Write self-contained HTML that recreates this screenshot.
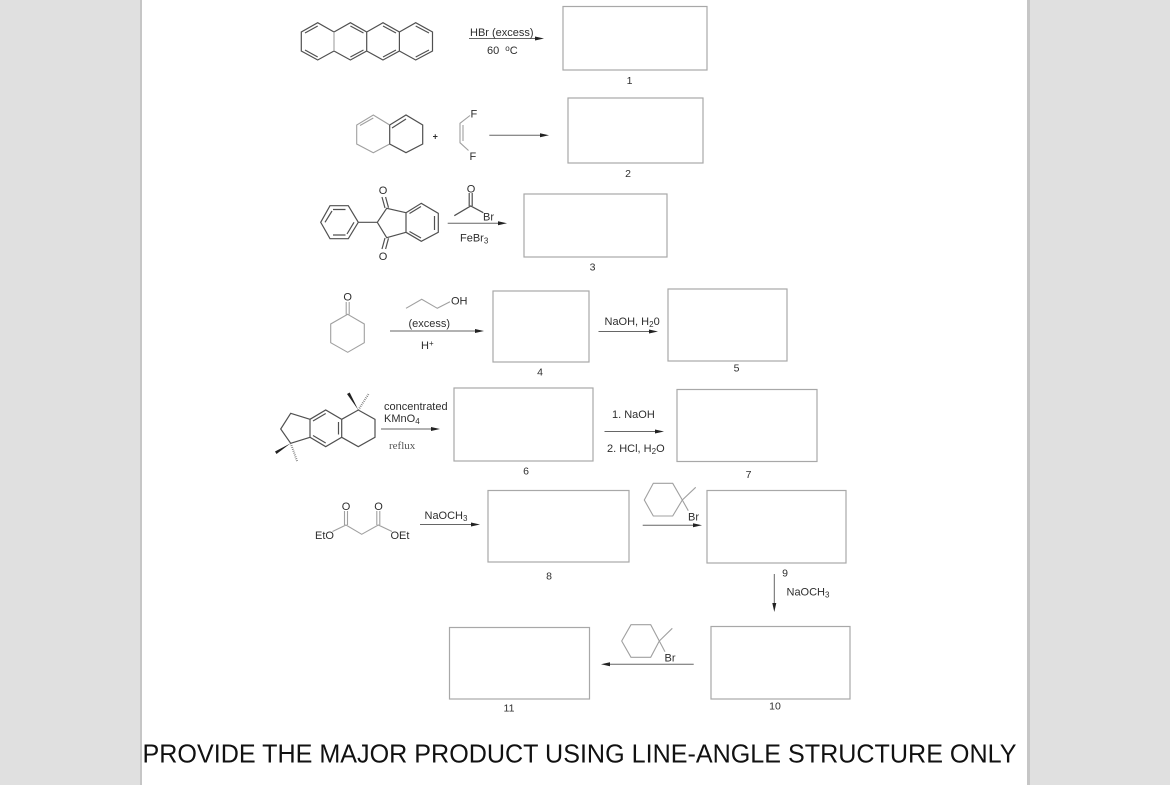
<!DOCTYPE html>
<html><head><meta charset="utf-8"><style>
html,body{margin:0;padding:0;background:#e0e0e0;width:1170px;height:785px;overflow:hidden}
svg{display:block}
text{font-family:"Liberation Sans",sans-serif;font-size:11px;fill:#2e2e2e}
.b{fill:#fff;stroke:#a8a8a8;stroke-width:1.2}
.m{fill:none;stroke:#505050;stroke-width:1.2}
.l{fill:none;stroke:#a0a0a0;stroke-width:1.1}
.a{fill:none;stroke:#666;stroke-width:1}
.h{fill:#222;stroke:none}
text.n{font-size:10.500px}
tspan.s{font-size:8px}
</style></head><body>
<svg width="1170" height="785" viewBox="0 0 1170 785" xmlns="http://www.w3.org/2000/svg">
<rect x="0" y="0" width="1170" height="785" fill="#e0e0e0"/>
<rect x="140" y="0" width="890" height="785" fill="#c6c6c6"/>
<rect x="142" y="0" width="885" height="785" fill="#fff"/>

<!-- boxes -->
<rect class="b" x="563" y="6.500" width="144" height="63.500"/>
<rect class="b" x="568" y="98" width="135" height="65"/>
<rect class="b" x="524" y="194" width="143" height="63"/>
<rect class="b" x="493" y="291" width="96" height="71"/>
<rect class="b" x="668" y="289" width="119" height="72"/>
<rect class="b" x="454" y="388" width="139" height="73"/>
<rect class="b" x="677" y="389.500" width="140" height="72"/>
<rect class="b" x="488" y="490.500" width="141" height="71.500"/>
<rect class="b" x="707" y="490.500" width="139" height="72.500"/>
<rect class="b" x="711" y="626.500" width="139" height="72.500"/>
<rect class="b" x="449.500" y="627.500" width="140" height="71.500"/>

<!-- box numbers -->
<text class="n" x="629.500" y="84" text-anchor="middle">1</text>
<text class="n" x="628" y="177" text-anchor="middle">2</text>
<text class="n" x="592.500" y="270.500" text-anchor="middle">3</text>
<text class="n" x="540" y="375.500" text-anchor="middle">4</text>
<text class="n" x="736.500" y="371.500" text-anchor="middle">5</text>
<text class="n" x="526" y="474.500" text-anchor="middle">6</text>
<text class="n" x="748.500" y="478" text-anchor="middle">7</text>
<text class="n" x="549" y="579.500" text-anchor="middle">8</text>
<text class="n" x="785" y="576.500" text-anchor="middle">9</text>
<text class="n" x="775" y="709.500" text-anchor="middle">10</text>
<text class="n" x="509" y="711.500" text-anchor="middle">11</text>

<!-- tetracene -->
<path class="m" d="M334 32L317.700 22.700L301.300 32V51L317.700 60L334 51M334 32L350.400 22.700L366.700 32V51L350.400 60L334 51M366.700 32L383 22.700L399.400 32V51L383 60L366.700 51M399.400 32L415.700 22.700L432.500 32V51L415.700 60L399.400 51"/>
<path class="l" d="M334 32V51"/>
<path class="m" d="M305 33L317.700 26M305 50L317.700 57M350.400 26L363.500 33M350.400 57L363.500 50M383 26L396 33M383 57L396 50M415.700 26L429 33M415.700 57L429 50"/>
<path class="a" d="M469 38.500H536"/><path class="h" d="M544 38.500L535 36.500V40.500Z"/>
<text x="470" y="36">HBr (excess)</text>
<text x="487" y="54">60 <tspan dx="3" dy="-3" class="s">o</tspan><tspan dy="3">C</tspan></text>

<!-- reaction 2 -->
<path class="l" d="M389.700 125L373.300 115L356.700 125V144L373.300 152.700L389.700 144"/>
<path class="l" d="M360 125.500L373.300 118"/>
<path class="m" d="M389.700 125V144L406 152.700L422.700 144V125L406 115L389.700 125M392 128L406 119"/>
<text x="435.300" y="139.500" text-anchor="middle" font-weight="bold" style="font-size:9px">+</text>
<path class="l" d="M470 115.500L460 123.300V142.700L468.500 150.500M463 125V141"/>
<text x="470.500" y="117.500">F</text>
<text x="469.500" y="160">F</text>
<path class="a" d="M489.300 135.300H541"/><path class="h" d="M549 135.300L540 133.300V137.300Z"/>

<!-- reaction 3 -->
<path class="m" d="M320.700 222.300L330 205.700H348.300L358.300 222.300L348.300 238.700H330ZM333 209.500H345.500M333 235H345.500M325 222.300L332 211M354 222.300L347 234M358.300 222.300H377.300L386.700 208.300L406 212.700V232.300L386.700 237.700L377.300 222.300M406 212.700L421.300 203.300L438.300 213.300V232.300L421.300 241.300L406 232.300M409.500 213.500L421 206.500M434.500 216V230M409.500 231.500L421 238"/>
<path class="m" d="M385 208L382 197M388.500 207.700L385.600 197M385 238L382 249M388.500 238.300L385.600 249"/>
<text x="383" y="194" text-anchor="middle">O</text>
<text x="383" y="260" text-anchor="middle">O</text>
<path class="m" d="M454.300 215.700L470.700 206L483.300 212.700M469.200 206V193M472.200 206V193"/>
<text x="471" y="192.500" text-anchor="middle">O</text>
<text x="483" y="220.500">Br</text>
<path class="a" d="M447.700 223.300H499"/><path class="h" d="M507 223.300L498 221.300V225.300Z"/>
<text x="460" y="241.500">FeBr<tspan class="s" dy="2">3</tspan></text>

<!-- reaction 4 -->
<path class="l" d="M347.700 314.300L364.300 324V342.700L347.700 352.300L330.700 342.700V324ZM346.200 314.500V302M349.200 314.500V302"/>
<text x="347.700" y="300.500" text-anchor="middle">O</text>
<path class="l" d="M406 308.300L421.700 299.300L437.300 308.300L450 301.700"/>
<text x="451" y="304.500">OH</text>
<text x="408.500" y="327">(excess)</text>
<path class="a" d="M390 331H476"/><path class="h" d="M484 331L475 329V333Z"/>
<text x="421" y="349">H<tspan class="s" dy="-3">+</tspan></text>
<text x="604.500" y="325">NaOH, H<tspan class="s" dy="2">2</tspan><tspan dy="-2">0</tspan></text>
<path class="a" d="M598.500 331.500H650"/><path class="h" d="M658 331.500L649 329.500V333.500Z"/>

<!-- reaction 5 -->
<path class="m" d="M310 419.300L325.700 410L341.700 419.300V437.300L325.700 446.700L310 437.300ZM313 421L325.700 413.500M338.500 422V434.500M313 435.500L325.700 443M341.700 419.300L358.300 410L375 419.300V437.300L358.300 446.700L341.700 437.300M310 419.300L290.700 413.300L280.700 429L290.700 443.300L310 437.300"/>
<path class="h" d="M358.300 410L347 394L349.700 392.500Z"/>
<path class="h" d="M290.700 443.300L275 451.500L276.500 454Z"/>
<path d="M358.300 410L369 393.300" fill="none" stroke="#777" stroke-width="2" stroke-dasharray="0.800 1.200"/>
<path d="M290.700 443.300L297.300 461.700" fill="none" stroke="#777" stroke-width="2" stroke-dasharray="0.800 1.200"/>
<text x="384" y="410">concentrated</text>
<text x="384" y="422">KMnO<tspan class="s" dy="2">4</tspan></text>
<path class="a" d="M381 429H432"/><path class="h" d="M440 429L431 427V431Z"/>
<text x="389" y="449" style="font-family:'Liberation Serif',serif;font-size:11px;fill:#555">reflux</text>
<text x="612" y="418">1. NaOH</text>
<text x="607" y="452">2. HCl, H<tspan class="s" dy="2">2</tspan><tspan dy="-2">O</tspan></text>
<path class="a" d="M604.500 431.500H656"/><path class="h" d="M664 431.500L655 429.500V433.500Z"/>

<!-- reaction 6 -->
<path class="l" d="M332.500 531.500L346 525L361.700 534.300L378.300 525L392 531.500M344.500 525V511M347.500 525V511M376.800 525V511M379.800 525V511"/>
<text x="346" y="510" text-anchor="middle">O</text>
<text x="378.500" y="510" text-anchor="middle">O</text>
<text x="315" y="539">EtO</text>
<text x="390.500" y="539">OEt</text>
<text x="424.500" y="519">NaOCH<tspan class="s" dy="2">3</tspan></text>
<path class="a" d="M420 524.500H472"/><path class="h" d="M480 524.500L471 522.500V526.500Z"/>

<path class="l" d="M644.300 500L653.300 483.300H672.700L682.300 500L672.700 516H653.300ZM682.300 500L695.700 487.300M682.300 500L688.300 510.700"/>
<text x="688" y="520.500">Br</text>
<path class="a" d="M642.700 525.300H694"/><path class="h" d="M702 525.300L693 523.300V527.300Z"/>

<path class="a" d="M774.300 574V604"/><path class="h" d="M774.300 612L772.300 603H776.300Z"/>
<text x="786.500" y="595.500">NaOCH<tspan class="s" dy="2">3</tspan></text>

<path class="l" d="M621.700 641L631 624.700H650.700L659.300 641L650.700 657.300H631ZM659.300 641L672.300 628.300M659.300 641L665 651.700"/>
<text x="664.500" y="661.500">Br</text>
<path class="a" d="M693.700 664.300H609"/><path class="h" d="M601 664.300L610 662.300V666.300Z"/>

<text x="142.500" y="762.500" textLength="874" lengthAdjust="spacingAndGlyphs" style="font-size:25.500px;fill:#111">PROVIDE THE MAJOR PRODUCT USING LINE-ANGLE STRUCTURE ONLY</text>
</svg>
</body></html>
